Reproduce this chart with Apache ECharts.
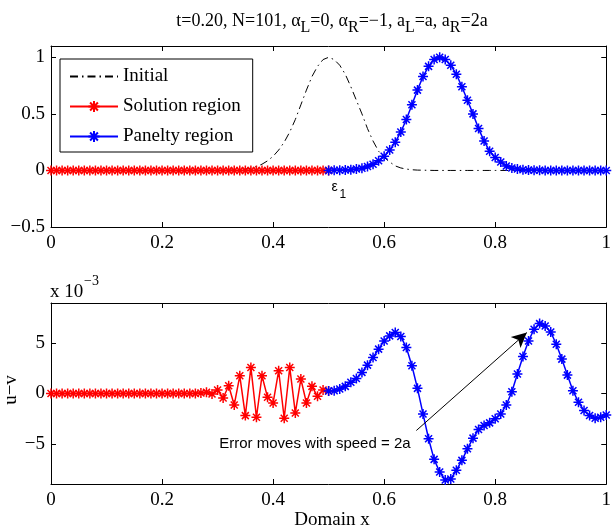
<!DOCTYPE html>
<html><head><meta charset="utf-8">
<script src="https://cdn.jsdelivr.net/npm/echarts@6/dist/echarts.min.js"></script>
<style>html,body{margin:0;padding:0;background:#fff}#c{width:614px;height:529px}</style>
</head><body><div id="c"></div>
<script>
// ---- data ----
const N = 101;                       // grid points on [0,1]
const xTickLabels = ['0','0.2','0.4','0.6','0.8','1'];
const legendNames = ['Initial','Solution region','Panelty region'];

// top panel, x = 0 .. 0.50 (51 points)
const topSolution = [0,0,0,0,0,0,0,0,0,0, 0,0,0,0,0,0,0,0,0,0, 0,0,0,0,0,0,0,0,0,0, 0,0,0,0,0,0,0,0,0,0, 0,0,0,0,0,0,0,0,0,0, 0];
// top panel, x = 0.50 .. 1.00 (51 points)
const topPenalty = [0.000,0.001,0.002,0.004,0.007,0.012,0.020,0.035,0.055,0.085,
  0.125,0.18,0.25,0.34,0.45,0.58,0.71,0.83,0.92,0.98,
  1.00,0.98,0.93,0.85,0.74,0.62,0.50,0.37,0.26,0.17,
  0.115,0.075,0.040,0.022,0.012,0.006,0.003,0.002,0.001,0,
  0,0,0,0,0,0,0,0,0,0, 0];
// initial profile, x = 0 .. 1.00 (101 points)
const initial = [0,0,0,0,0,0,0,0,0,0, 0,0,0,0,0,0,0,0,0,0, 0,0,0,0,0,0,0,0,0,0,
  0.000,0.001,0.002,0.004,0.007,0.012,0.020,0.035,0.055,0.085,
  0.125,0.18,0.25,0.34,0.45,0.58,0.71,0.83,0.92,0.98,
  1.00,0.98,0.93,0.85,0.74,0.62,0.50,0.37,0.26,0.17,
  0.115,0.075,0.040,0.022,0.012,0.006,0.003,0.002,0.001,0,
  0,0,0,0,0,0,0,0,0,0, 0,0,0,0,0,0,0,0,0,0, 0,0,0,0,0,0,0,0,0,0, 0];
// bottom panel (units of 1e-3), x = 0 .. 0.50
const errSolution = [0,0,0,0,0,0,0,0,0,0, 0,0,0,0,0,0,0,0,0,0, 0,0,0,0,0,0,0,
  0.05,0.12,-0.05,0.35,-0.45,0.77,-1.14,1.76,-2.2,2.59,
  -2.36,1.76,-0.38,-0.94,2.26,-2.46,2.59,-1.93,1.44,-0.94,
  0.71,-0.28,0.35,0.25];
// bottom panel (units of 1e-3), x = 0.50 .. 1.00
const errPenalty = [0.25,0.28,0.45,0.71,1.11,1.50,2.10,2.82,3.58,4.41,5.23,
  5.73,6.06,5.66,4.57,2.76,0.51,-2.03,-4.50,-6.55,-7.81,
  -8.6,-8.5,-7.64,-6.65,-5.50,-4.44,-3.58,-3.18,-2.92,-2.52,
  -2.03,-1.14,0.18,1.93,3.68,5.23,6.39,6.95,6.72,6.12,
  4.90,3.42,1.83,0.28,-0.87,-1.70,-2.19,-2.46,-2.36,-2.13];
const arrowFrom = [0.658, -3.68];
const arrowTo = [0.857, 6.06];
const annotText = 'Error moves with speed = 2a';
const annotAt = [0.303, -5.0];
const epsAt = [0.505, -0.09];

// ---- chart ----
const serif = "'Liberation Serif','Times New Roman',serif";
const sans = "'Liberation Sans',Arial,sans-serif";
const FS = 19;
const star = 'path://M5,0L5,10M0,5L10,5M1.5,1.5L8.5,8.5M1.5,8.5L8.5,1.5';
const xAt = i => Math.round(i * 100 / (N - 1)) / 100;
const pairs = (vals, start) => vals.map((v, k) => [xAt(start + k), v]);
const minus = v => (v < 0 ? '\u2212' : '') + String(Math.abs(+v.toFixed(2)));

function xAx(grid, pos, labels) {
  return {type:'value', gridIndex:grid, position:pos, min:0, max:1, interval:0.2,
    axisLine:{show:true, onZero:false, lineStyle:{color:'#000', width:1}},
    axisTick:{show:true, inside:true, length:5, lineStyle:{color:'#000', width:1}},
    splitLine:{show:false},
    axisLabel:{show:labels, color:'#000', fontFamily:serif, fontSize:FS, margin:7,
      formatter: v => xTickLabels[Math.round(v / 0.2)]}};
}
function yAx(grid, pos, labels, range, showMin) {
  return Object.assign({type:'value', gridIndex:grid, position:pos,
    axisLine:{show:true, onZero:false, lineStyle:{color:'#000', width:1}},
    axisTick:{show:true, inside:true, length:5, lineStyle:{color:'#000', width:1}},
    splitLine:{show:false},
    axisLabel:{show:labels, color:'#000', fontFamily:serif, fontSize:FS, margin:6,
      showMinLabel:showMin, showMaxLabel:false, formatter: minus}}, range);
}
const topY = {min:-0.5, max:1.1, interval:0.5};
const botY = {min:-9, max:9, splitNumber:3};

function starSeries(name, data, color, xi, yi, extra) {
  return Object.assign({name, type:'line', xAxisIndex:xi, yAxisIndex:yi, data,
    symbol:star, symbolSize:10, showAllSymbol:true, animation:false,
    lineStyle:{color, width:1.5}, itemStyle:{color, borderColor:color, borderWidth:1.5}}, extra);
}

const chart = echarts.init(document.getElementById('c'));
chart.setOption({
  animation:false,
  backgroundColor:'#fff',
  grid:[{left:51, right:2, top:46, height:181}, {left:51, right:2, top:303, height:181}],
  xAxis:[xAx(0,'bottom',true), xAx(0,'top',false), xAx(1,'bottom',true), xAx(1,'top',false)],
  yAxis:[yAx(0,'left',true,topY,true), yAx(0,'right',false,topY,true),
         yAx(1,'left',true,botY,false), yAx(1,'right',false,botY,false)],
  legend:{data:[{name:legendNames[0], itemStyle:{opacity:0}}, legendNames[1], legendNames[2]],
    orient:'vertical', left:60, top:59, backgroundColor:'#fff',
    borderColor:'#000', borderWidth:1, borderRadius:0, padding:[8,12,6,9], itemGap:11,
    itemWidth:48, itemHeight:14, textStyle:{fontFamily:serif, fontSize:FS, color:'#000'}},
  series:[
    {name:'Initial', type:'line', xAxisIndex:0, yAxisIndex:0, data:pairs(initial,0), symbol:'none',
      lineStyle:{color:'#000', width:1, type:[8,4,1.5,4]}, itemStyle:{color:'#000'}, animation:false},
    starSeries('Solution region', pairs(topSolution,0), '#ff0000', 0, 0),
    starSeries('Panelty region', pairs(topPenalty,50), '#0000ff', 0, 0),
    starSeries('Solution region', pairs(errSolution,0), '#ff0000', 2, 2),
    starSeries('Panelty region', pairs(errPenalty,50), '#0000ff', 2, 2, {
      markLine:{silent:true, symbol:['none','arrow'], symbolSize:[11,15], label:{show:false},
        lineStyle:{color:'#000', width:1, type:'solid'}, emphasis:{disabled:true},
        data:[[{coord:arrowFrom},{coord:arrowTo}]]}})
  ]
});

const pA = chart.convertToPixel({gridIndex:1}, annotAt);
const pE = chart.convertToPixel({gridIndex:0}, epsAt);
chart.setOption({graphic:[
  {type:'text', x:332, y:21, style:{
    text:'{m|t=0.20, N=101, \u03b1}{s|L}{m|=0, \u03b1}{s|R}{m|=\u22121, a}{s|L}{m|=a, a}{s|R}{m|=2a}',
    rich:{m:{fontFamily:serif, fontSize:18, lineHeight:20, fill:'#000'},
          s:{fontFamily:serif, fontSize:16, lineHeight:16, padding:[13,0,0,0], fill:'#000'}},
    textAlign:'center', textVerticalAlign:'middle'}},
  {type:'text', x:50, y:292, style:{text:'x 10', fontFamily:serif, fontSize:FS, fill:'#000', textVerticalAlign:'middle'}},
  {type:'text', x:84, y:281, style:{text:'\u22123', fontFamily:serif, fontSize:14, fill:'#000', textVerticalAlign:'middle'}},
  {type:'text', x:11, y:390, rotation:Math.PI/2, style:{text:'u\u2212v', fontFamily:serif, fontSize:FS, fill:'#000', textAlign:'center', textVerticalAlign:'middle'}},
  {type:'text', x:332, y:520, style:{text:'Domain x', fontFamily:serif, fontSize:FS, fill:'#000', textAlign:'center', textVerticalAlign:'middle'}},
  {type:'text', x:pA[0], y:pA[1], style:{text:annotText, fontFamily:sans, fontSize:15, fill:'#000', textVerticalAlign:'middle'}},
  {type:'text', x:pE[0], y:pE[1], style:{text:'\u03b5', fontFamily:sans, fontSize:14, fill:'#000', textVerticalAlign:'top'}},
  {type:'text', x:pE[0]+8, y:pE[1]+8, style:{text:'1', fontFamily:sans, fontSize:12, fill:'#000', textVerticalAlign:'top'}}
]});
</script>
</body></html>
